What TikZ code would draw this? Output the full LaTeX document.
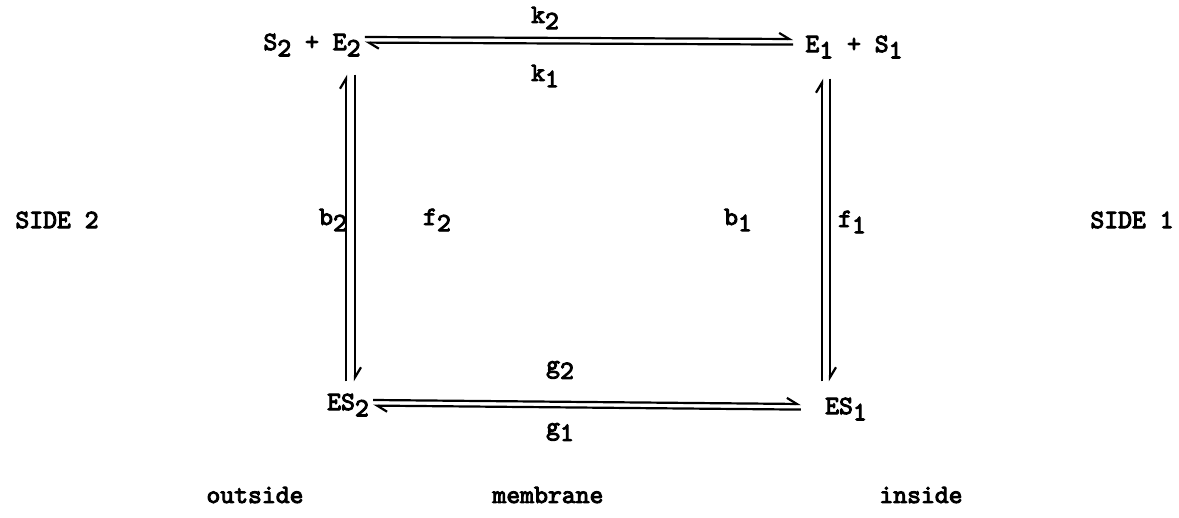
\documentclass[tikz,border=0pt]{standalone}
\usepackage{fontspec}
\setmonofont{lmmono10-regular.otf}[FakeBold=3.6]
\usetikzlibrary{arrows.meta,calc}

% lowered digit, typewriter style subscript
\newcommand{\dn}[1]{\raisebox{-0.55ex}{#1}}

\begin{document}
\begin{tikzpicture}[
  x=0.5pt, y=-0.5pt,
  font=\fontsize{13.2}{15}\selectfont\ttfamily,
  species/.style={
    inner sep=0pt,
    anchor=center
  },
  rate/.style={
    inner sep=0pt
  },
  harpoon/.style={
    -{Straight Barb[left,length=5pt,width=6pt]},
    line width=1.1pt
  }
]

% Force page size to the reference proportions
\useasboundingbox (0,0) rectangle (1179,518);

% Corner species
\node[species] (S2E2) at (312,45) {S\dn{2} + E\dn{2}};
\node[species] (E1S1) at (854,47) {E\dn{1} + S\dn{1}};
\node[species] (ES2) at (348,405) {ES\dn{2}};
\node[species] (ES1) at (846,409) {ES\dn{1}};

% Top: binding step
\draw[harpoon] ([xshift=2pt,yshift=4pt]S2E2.east) -- ([xshift=-6pt,yshift=4pt]E1S1.west);
\draw[harpoon] ([xshift=-6pt,yshift=1.2pt]E1S1.west) -- ([xshift=2pt,yshift=1.2pt]S2E2.east);
\node[rate] (k2) at (545,18) {k\dn{2}};
\node[rate] (k1) at (545,76) {k\dn{1}};

% Bottom: translocation of the complex
\draw[harpoon] ([xshift=2pt,yshift=2.5pt]ES2.east) -- ([xshift=-12pt,yshift=2.5pt]ES1.west);
\draw[harpoon] ([xshift=-12pt,yshift=-0.3pt]ES1.west) -- ([xshift=2pt,yshift=-0.3pt]ES2.east);
\node[rate] (g2) at (560,370) {g\dn{2}};
\node[rate] (g1) at (560,432) {g\dn{1}};

% Left side: S2 binds / leaves
\draw[harpoon] ([xshift=-1pt,yshift=6pt]ES2.north) -- ([xshift=-1pt,yshift=-9pt]ES2.north |- S2E2.south);
\draw[harpoon] ([xshift=3.5pt,yshift=-9pt]ES2.north |- S2E2.south) -- ([xshift=3.5pt,yshift=6pt]ES2.north);
\node[rate] (b2) at (333,220) {b\dn{2}};
\node[rate] (f2) at (437,220) {f\dn{2}};

% Right side: S1 binds / leaves
\draw[harpoon] ([xshift=-12pt,yshift=8pt]ES1.north) -- ([xshift=-12pt,yshift=-10pt]ES1.north |- E1S1.south);
\draw[harpoon] ([xshift=-8pt,yshift=-10pt]ES1.north |- E1S1.south) -- ([xshift=-8pt,yshift=8pt]ES1.north);
\node[rate] (b1) at (738,220) {b\dn{1}};
\node[rate] (f1) at (852,222) {f\dn{1}};

% Compartments
\node (side2) at (57,220) {SIDE 2};
\node (side1) at (1132,220) {SIDE 1};
\node (outside) at (255,495) {outside};
\node (membrane) at (548,495) {membrane};
\node (inside) at (921,495) {inside};

\end{tikzpicture}
\end{document}
